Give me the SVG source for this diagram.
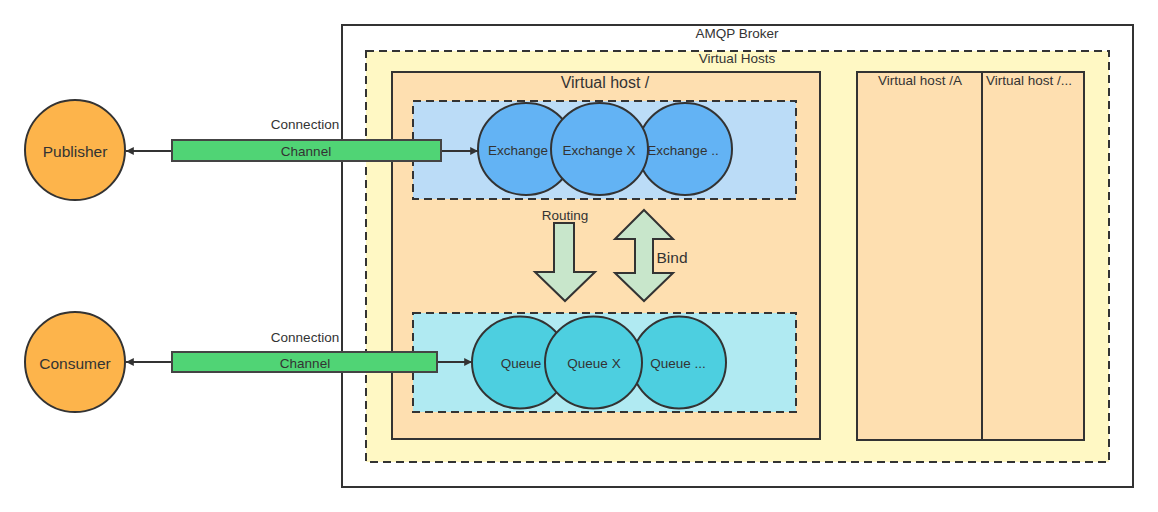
<svg xmlns="http://www.w3.org/2000/svg" width="1158" height="512" viewBox="0 0 1158 512">
<defs>
<style>
text{font-family:"Liberation Sans",Arial,sans-serif;fill:#333;text-anchor:middle;dominant-baseline:central}
.s12{font-size:13.5px}.s14{font-size:15.5px}.s16{font-size:16px}
.solid{stroke:#333;stroke-width:2}
.dash{stroke:#333;stroke-width:2;stroke-dasharray:8 5}
.person{fill:#fdb44b;stroke:#333;stroke-width:2}
.chan{fill:#50d475;stroke:#444;stroke-width:2}
.exc{fill:#63b3f4;stroke:#333;stroke-width:2}
.que{fill:#4dcfe0;stroke:#333;stroke-width:2}
.big{fill:#c8e6cb;stroke:#333;stroke-width:2;stroke-linejoin:miter}
.line{stroke:#333;stroke-width:2;fill:none}
</style>
<marker id="ah" viewBox="0 0 10 10" refX="10" refY="5" markerWidth="6" markerHeight="6" markerUnits="userSpaceOnUse" orient="auto" overflow="visible">
<path d="M0,0 L10,5 L0,10 Z" fill="#333" transform="scale(1.3) translate(-2.3,-1.15)"/>
</marker>
</defs>
<rect width="1158" height="512" fill="#fff"/>
<g id="broker">
<rect x="342" y="25" width="791" height="462" fill="#fff" class="solid"/>
<text x="737" y="33" class="s12">AMQP Broker</text>
</g>
<g id="virtual-hosts">
<rect x="366" y="51" width="743" height="411" fill="#fff8c4" class="dash"/>
<text x="737" y="58" class="s12">Virtual Hosts</text>
</g>
<g id="vhost-root">
<rect x="392" y="72" width="428" height="367" fill="#fedfb0" class="solid"/>
<text x="605" y="82" class="s16">Virtual host /</text>
</g>
<g id="vhost-a">
<rect x="857" y="72" width="125" height="368" fill="#fedfb0" class="solid"/>
<text x="920" y="80" class="s12">Virtual host /A</text>
</g>
<g id="vhost-more">
<rect x="982" y="72" width="102" height="368" fill="#fedfb0" class="solid"/>
<text x="1029" y="80" class="s12">Virtual host /...</text>
</g>
<g id="exchanges">
<rect x="413" y="101" width="383" height="98" fill="#bbdcf7" class="dash"/>
</g>
<g id="queues">
<rect x="413" y="313" width="383" height="99" fill="#b0eaf2" class="dash"/>
</g>
<g id="exchange-1"><ellipse cx="526" cy="149" rx="48" ry="46" class="exc"/><text x="518" y="150" class="s12">Exchange</text></g>
<g id="exchange-3"><ellipse cx="685" cy="149" rx="47" ry="46" class="exc"/><text x="683" y="150" class="s12">Exchange ..</text></g>
<g id="exchange-x"><ellipse cx="599.5" cy="149" rx="48.5" ry="46" class="exc"/><text x="599" y="150" class="s12">Exchange X</text></g>
<g id="queue-1"><ellipse cx="520" cy="362.5" rx="48" ry="46" class="que"/><text x="521" y="363" class="s12">Queue</text></g>
<g id="queue-3"><ellipse cx="679" cy="362.5" rx="47" ry="46" class="que"/><text x="678" y="363" class="s12">Queue ...</text></g>
<g id="queue-x"><ellipse cx="593.5" cy="362.5" rx="48.5" ry="46" class="que"/><text x="594" y="363" class="s12">Queue X</text></g>
<g id="routing">
<path d="M554,223 L574,223 L574,272 L595,272 L565,301 L535,272 L554,272 Z" class="big"/>
<text x="565" y="215" class="s12">Routing</text>
</g>
<g id="bind">
<path d="M644,210 L673,239 L653,239 L653,273 L673,273 L644,301 L615,273 L635,273 L635,239 L615,239 Z" class="big"/>
<text x="672" y="257" class="s14">Bind</text>
</g>
<g id="publisher">
<circle cx="75" cy="150" r="50" class="person"/>
<text x="75" y="151" class="s14">Publisher</text>
</g>
<g id="consumer">
<circle cx="75" cy="362" r="50" class="person"/>
<text x="75" y="363" class="s14">Consumer</text>
</g>
<g id="connectors">
<line x1="172" y1="151" x2="126" y2="151" class="line" marker-end="url(#ah)"/>
<line x1="441" y1="151" x2="478" y2="151" class="line" marker-end="url(#ah)"/>
<line x1="172" y1="362" x2="126" y2="362" class="line" marker-end="url(#ah)"/>
<line x1="437" y1="362" x2="472" y2="362" class="line" marker-end="url(#ah)"/>
</g>
<g id="channel-top">
<text x="305" y="124" class="s12">Connection</text>
<rect x="172" y="140" width="269" height="21" class="chan"/>
<text x="306" y="151" class="s12">Channel</text>
</g>
<g id="channel-bottom">
<text x="305" y="337" class="s12">Connection</text>
<rect x="172" y="352" width="265" height="20" class="chan"/>
<text x="305" y="363" class="s12">Channel</text>
</g>
</svg>
